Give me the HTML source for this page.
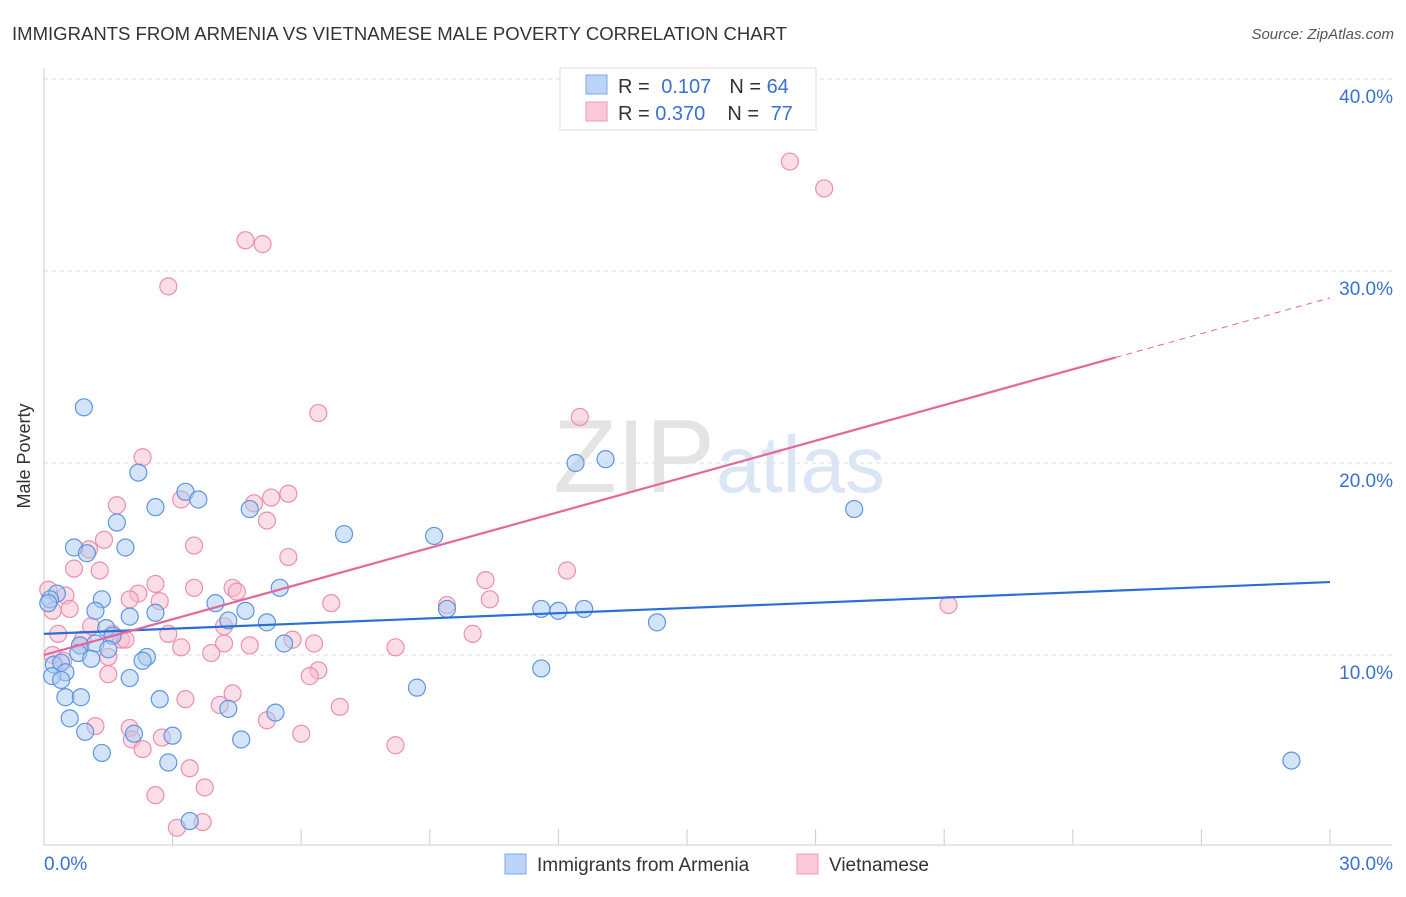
<!DOCTYPE html>
<html><head><meta charset="utf-8"><style>
body{margin:0;background:#fff;font-family:"Liberation Sans",sans-serif;}
svg text{font-family:"Liberation Sans",sans-serif;}
</style></head><body>
<svg id="chart" width="1406" height="892" viewBox="0 0 1406 892" xmlns="http://www.w3.org/2000/svg">
<text x="12" y="40" font-size="18" fill="#333" textLength="775" lengthAdjust="spacingAndGlyphs">IMMIGRANTS FROM ARMENIA VS VIETNAMESE MALE POVERTY CORRELATION CHART</text>
<text x="1394" y="39" font-size="15" fill="#555" text-anchor="end" font-style="italic">Source: ZipAtlas.com</text>
<g id="grid"></g>
<text x="715" y="492" font-size="104" fill="#e4e4e4" text-anchor="end" font-family="Liberation Serif">ZIP</text>
<text x="716" y="492" font-size="80" fill="#dbe6f5">atlas</text>
<g id="axes"></g>
<g id="marks"></g>
<text x="30" y="456" font-size="18" fill="#333" text-anchor="middle" transform="rotate(-90 30 456)">Male Poverty</text>
<g>
<rect x="560" y="68" width="256" height="62" fill="#fff" stroke="#ddd"/>
<rect x="586" y="75" width="21" height="19" fill="#b9d4f6" stroke="#7aa8e6"/>
<rect x="586" y="102" width="21" height="19" fill="#fbc8d7" stroke="#f09ab5"/>
<text x="618" y="93" font-size="20" fill="#333">R = <tspan fill="#3a70d0" dx="6">0.107</tspan><tspan dx="18" fill="#333">N = </tspan><tspan fill="#3a70d0">64</tspan></text>
<text x="618" y="120" font-size="20" fill="#333">R = <tspan fill="#3a70d0">0.370</tspan><tspan dx="22" fill="#333">N = </tspan><tspan fill="#3a70d0" dx="6">77</tspan></text>
</g>
<g>
<rect x="505" y="854" width="21" height="20" fill="#b9d4f6" stroke="#7aa8e6"/>
<text x="537" y="871" font-size="19" fill="#333">Immigrants from Armenia</text>
<rect x="797" y="854" width="21" height="20" fill="#fbc8d7" stroke="#f09ab5"/>
<text x="829" y="871" font-size="19" fill="#333">Vietnamese</text>
</g>
</svg>
<script>
const blueX=[0.93,2.2,3.3,3.6,2.6,4.8,1.7,7.0,9.1,0.7,1.9,1.0,12.4,13.1,18.9,0.3,0.14,1.35,5.5,4.0,1.2,2.0,2.6,4.7,4.3,5.2,9.4,11.6,12.0,12.6,14.3,1.45,1.6,0.84,1.2,1.5,0.8,1.1,2.4,2.3,5.6,0.23,0.4,0.5,0.19,0.4,2.0,0.5,0.86,2.7,8.7,11.6,4.3,5.4,0.6,0.96,2.1,3.0,4.6,1.35,2.9,29.1,3.4,0.1];
const blueY=[22.9,19.5,18.5,18.1,17.7,17.6,16.9,16.3,16.2,15.6,15.6,15.3,20.0,20.2,17.6,13.2,12.9,12.9,13.5,12.7,12.3,12.0,12.2,12.3,11.8,11.7,12.4,12.4,12.3,12.4,11.7,11.4,11.0,10.5,10.6,10.3,10.1,9.8,9.9,9.7,10.6,9.5,9.6,9.1,8.9,8.7,8.8,7.8,7.8,7.7,8.3,9.3,7.2,7.0,6.7,6.0,5.9,5.8,5.6,4.9,4.4,4.5,1.35,12.7];
const pinkX=[17.4,18.2,4.7,5.1,2.9,6.4,12.5,2.3,5.7,5.3,3.2,4.9,1.7,5.2,1.4,3.5,1.05,5.7,0.7,1.3,12.2,10.3,2.6,3.5,4.4,4.5,2.2,0.1,0.5,2.0,2.7,10.4,6.7,9.4,21.1,0.6,0.2,4.2,1.1,1.6,2.9,10.0,0.33,0.9,1.8,1.9,5.8,0.84,4.2,6.3,3.2,4.8,8.2,3.9,0.2,1.5,0.45,6.4,6.2,1.5,4.4,3.3,4.1,6.9,5.2,1.2,2.0,6.0,2.05,2.75,2.3,8.2,3.4,3.75,2.6,3.7,3.1];
const pinkY=[35.7,34.3,31.6,31.4,29.2,22.6,22.4,20.3,18.4,18.2,18.1,17.9,17.8,17.0,16.0,15.7,15.5,15.1,14.5,14.4,14.4,13.9,13.7,13.5,13.5,13.3,13.2,13.4,13.1,12.9,12.8,12.9,12.7,12.6,12.6,12.4,12.3,11.5,11.5,11.1,11.1,11.1,11.1,10.8,10.8,10.8,10.8,10.5,10.6,10.6,10.4,10.5,10.4,10.1,10.0,9.9,9.7,9.2,8.9,9.0,8.0,7.7,7.4,7.3,6.6,6.3,6.2,5.9,5.6,5.7,5.1,5.3,4.1,3.1,2.7,1.3,1.0];
const blueTrend=[11.1,13.8];
const pinkTrend=[10.0,28.6];
const pinkSolidEnd=25;
const yTicks=[10,20,30,40];
const xTickLabels=["0.0%","30.0%"];
const NS="http://www.w3.org/2000/svg";
const sx=v=>44+v*(1286/30);
const sy=v=>847-v*19.2;
function mk(tag,attrs,parent){const e=document.createElementNS(NS,tag);for(const k in attrs)e.setAttribute(k,attrs[k]);parent.appendChild(e);return e;}
const grid=document.getElementById('grid'),axes=document.getElementById('axes'),marks=document.getElementById('marks');
yTicks.forEach(t=>{
 const l=mk('line',{x1:44,x2:1392,y1:sy(t),y2:sy(t),stroke:'#ddd','stroke-dasharray':'4,4'},grid);
 
 
 const tx=mk('text',{x:1393,y:sy(t)+24,'font-size':19,fill:'#3a70d0','text-anchor':'end'},axes);
 tx.textContent=t.toFixed(1)+'%';
 
 
});
const xa=mk('line',{x1:44,x2:1392,y1:845,y2:845,stroke:'#ccc'},axes);


const ya=mk('line',{x1:44,x2:44,y1:68,y2:845,stroke:'#ccc'},axes);


for(let i=0;i<=10;i++){const v=i*3;const t=mk('line',{x1:sx(v),x2:sx(v),y1:829,y2:845,stroke:'#ccc'},axes);
 
 }
const xl0=mk('text',{x:44,y:870,'font-size':19,fill:'#3a70d0'},axes);xl0.textContent=xTickLabels[0];


const xl1=mk('text',{x:1393,y:870,'font-size':19,fill:'#3a70d0','text-anchor':'end'},axes);xl1.textContent=xTickLabels[1];


function pts(X,Y,fill,stroke,name){X.forEach((x,i)=>{const c=mk('circle',{cx:sx(x),cy:sy(Y[i]),r:8.5,fill:fill,'fill-opacity':0.5,stroke:stroke,'stroke-width':1.2},marks);
 
 });}
pts(pinkX,pinkY,'#f7bcd0','#ec8fae','vietnamese-point');
pts(blueX,blueY,'#a9c9f2','#5d95e0','armenia-point');
const bl=mk('line',{x1:sx(0),y1:sy(blueTrend[0]),x2:sx(30),y2:sy(blueTrend[1]),stroke:'#2b6fd6','stroke-width':2.2},marks);


const pAt=v=>pinkTrend[0]+(pinkTrend[1]-pinkTrend[0])*v/30;
const pl=mk('line',{x1:sx(0),y1:sy(pAt(0)),x2:sx(pinkSolidEnd),y2:sy(pAt(pinkSolidEnd)),stroke:'#e4679a','stroke-width':2.2},marks);


const pd=mk('line',{x1:sx(pinkSolidEnd),y1:sy(pAt(pinkSolidEnd)),x2:sx(30),y2:sy(pAt(30)),stroke:'#e4679a','stroke-width':1,'stroke-dasharray':'6,5'},marks);


</script>
</body></html>
